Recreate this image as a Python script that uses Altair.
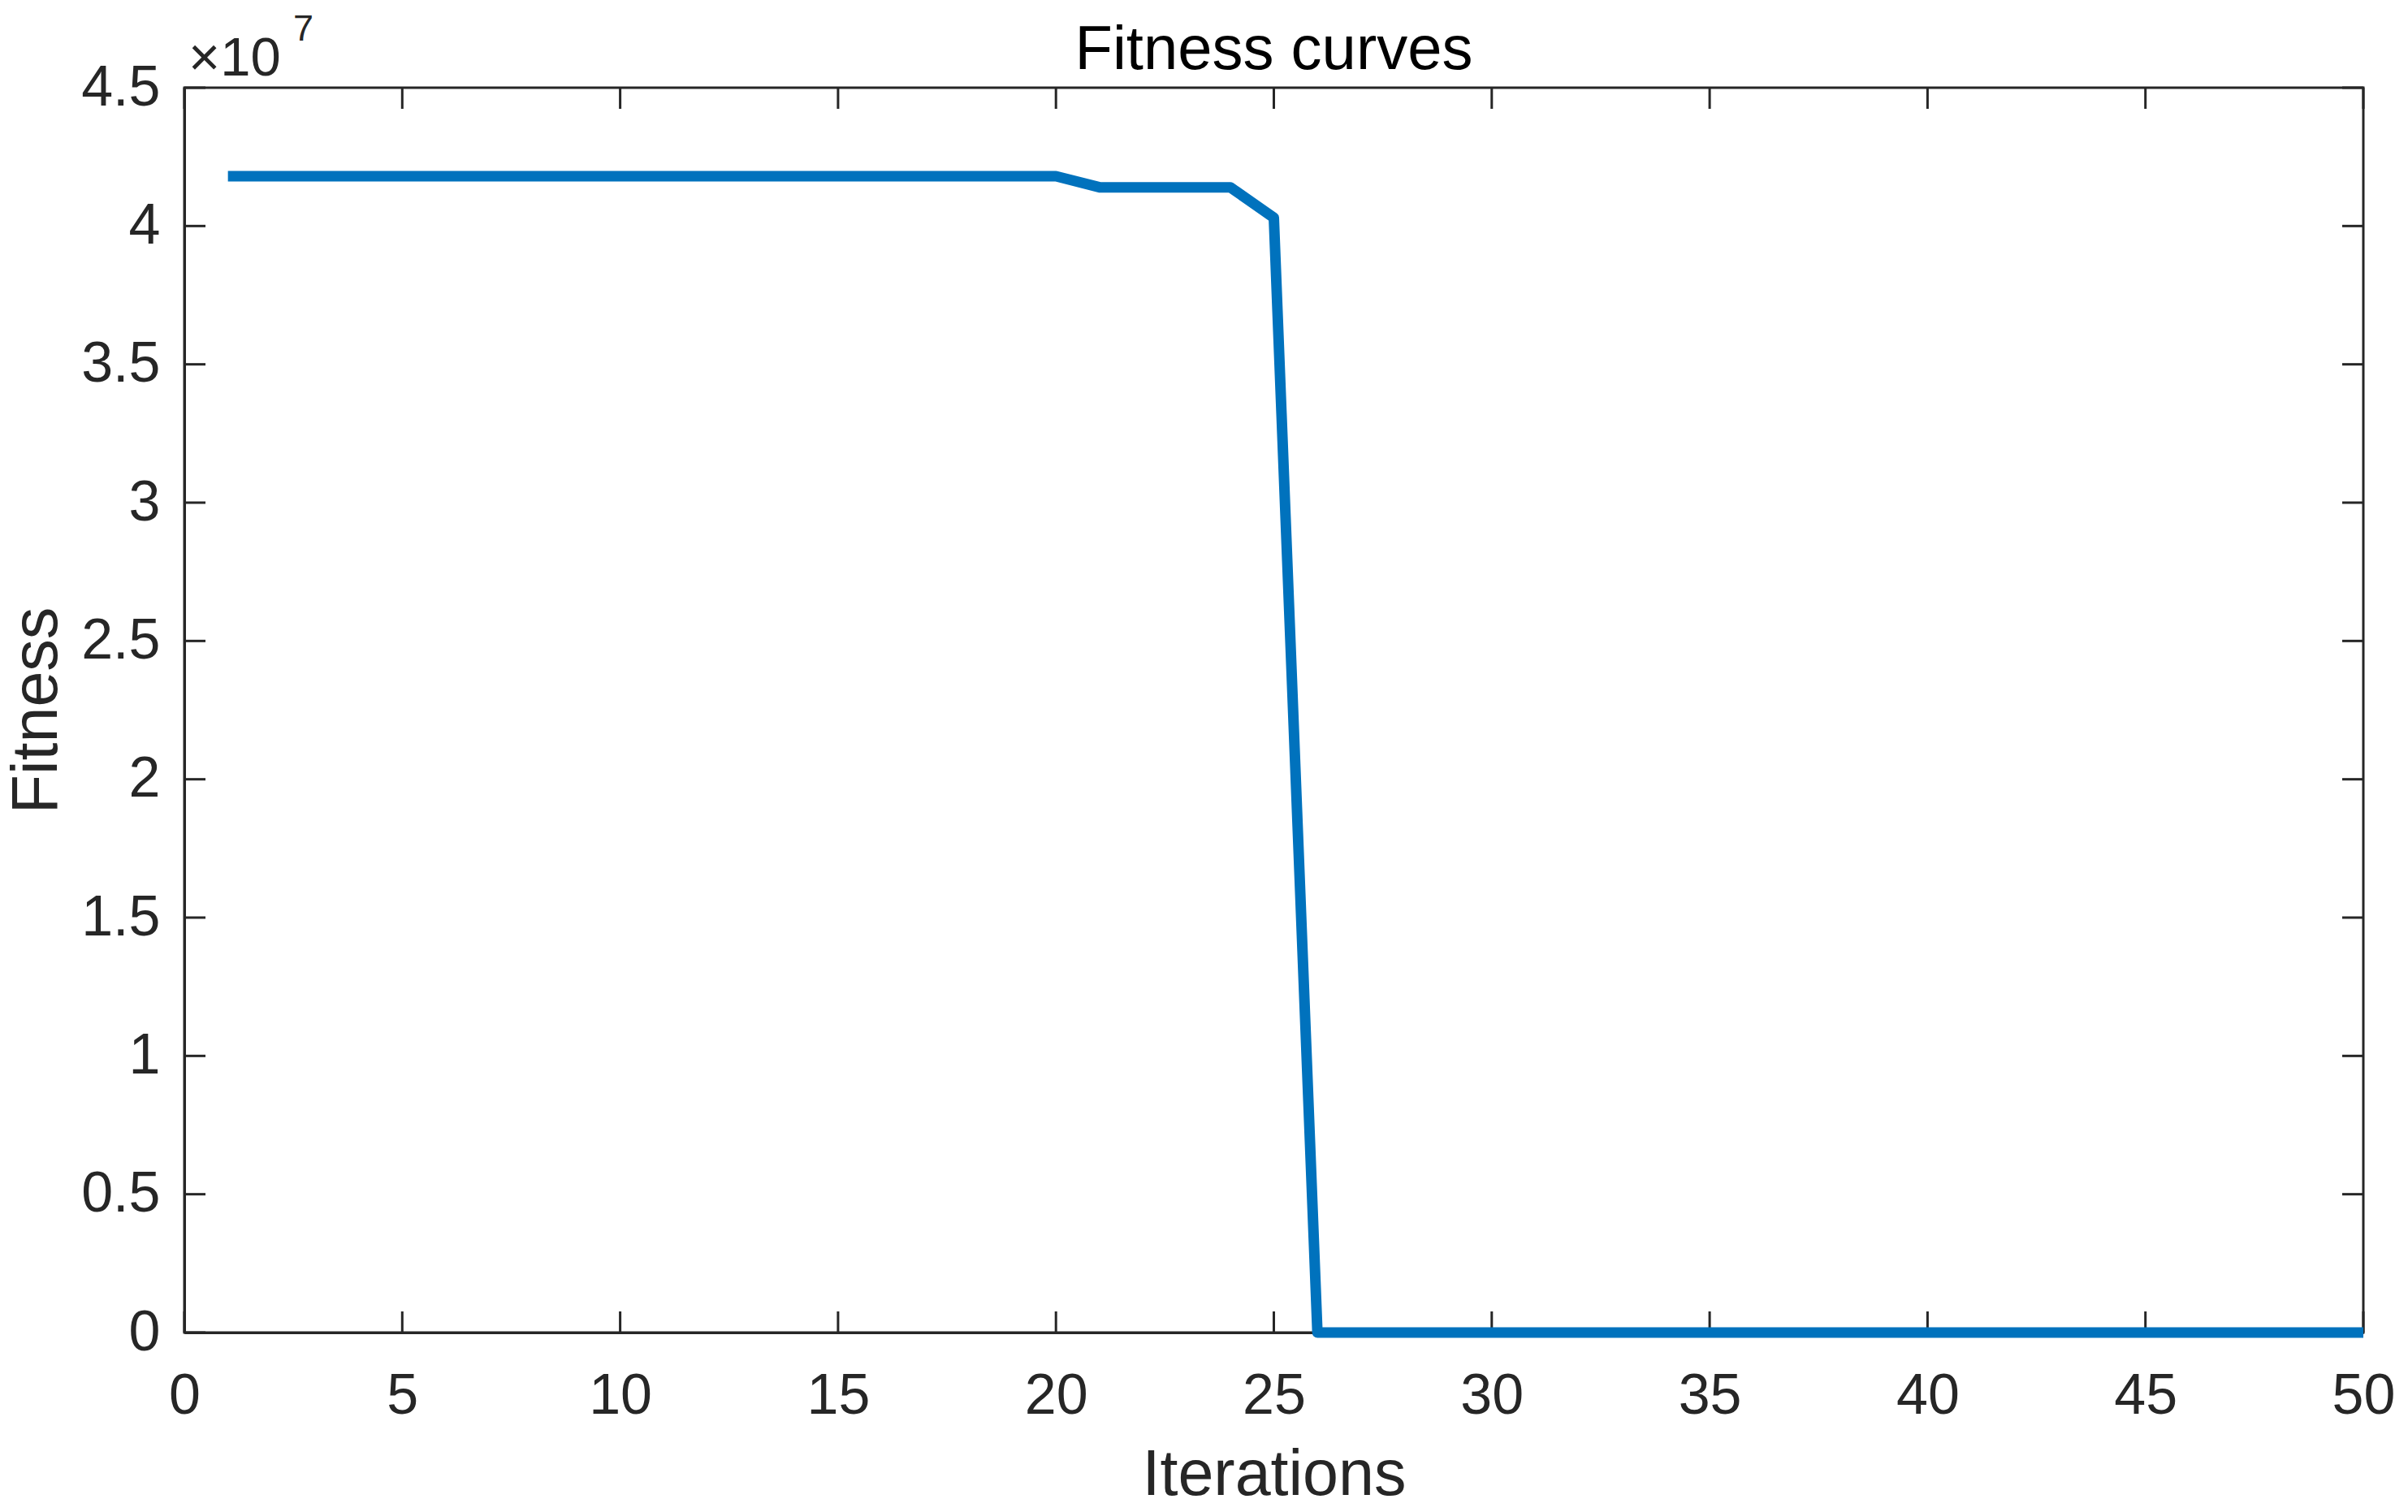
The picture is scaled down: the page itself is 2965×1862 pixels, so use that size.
import altair as alt
import pandas as pd

# ---- data ----
iterations = list(range(1, 51))
fitness = (
    [41800000] * 20          # iterations 1-20
    + [41400000] * 4         # iterations 21-24
    + [40300000]             # iteration 25
    + [0] * 25               # iterations 26-50
)
x_ticks = [0, 5, 10, 15, 20, 25, 30, 35, 40, 45, 50]
y_ticks = [0, 5000000, 10000000, 15000000, 20000000, 25000000,
           30000000, 35000000, 40000000, 45000000]
title_text = "Fitness curves"
exponent_base = "×10"
exponent_power = "7"

W, H = 2683, 1533
FONT = "Liberation Sans"
DARK = "#262626"
TICK_LEN = 26

df = pd.DataFrame({"Iterations": iterations, "Fitness": fitness})
dfx = pd.DataFrame({"Iterations": x_ticks})
dfy = pd.DataFrame({"Fitness": y_ticks})

xscale = alt.Scale(domain=[0, 50], nice=False, zero=False)
yscale = alt.Scale(domain=[0, 45000000], nice=False, zero=False)

x_axis = alt.Axis(values=x_ticks, title="Iterations", ticks=False, tickSize=0,
                  grid=False, labelFlush=False, labelOverlap=False,
                  labelFontSize=70, labelFont=FONT, labelColor=DARK,
                  labelPadding=99, labelBaseline="alphabetic",
                  domainColor=DARK, domainWidth=3,
                  titleFontSize=79, titleFont=FONT, titleColor=DARK,
                  titleFontWeight="normal", titleY=199, titleX=W / 2,
                  titleBaseline="alphabetic", titleAlign="center")
y_axis = alt.Axis(values=y_ticks, title="Fitness", ticks=False, tickSize=0,
                  grid=False, labelOverlap=False,
                  labelExpr="datum.value / 10000000 + ''",
                  labelFontSize=70, labelFont=FONT, labelColor=DARK,
                  labelPadding=30, labelAlign="right", labelBaseline="middle",
                  domainColor=DARK, domainWidth=3,
                  titleFontSize=79, titleFont=FONT, titleColor=DARK,
                  titleFontWeight="normal", titleX=-158, titleY=H / 2,
                  titleBaseline="alphabetic", titleAngle=270,
                  titleAlign="center")

tick_style = dict(color=DARK, strokeWidth=3)
xt_bottom = alt.Chart(dfx).mark_rule(**tick_style).encode(
    x=alt.X("Iterations:Q", scale=xscale, axis=x_axis),
    y=alt.value(H), y2=alt.value(H - TICK_LEN))
xt_top = alt.Chart(dfx).mark_rule(**tick_style).encode(
    x=alt.X("Iterations:Q", scale=xscale),
    y=alt.value(0), y2=alt.value(TICK_LEN))
yt_left = alt.Chart(dfy).mark_rule(**tick_style).encode(
    y=alt.Y("Fitness:Q", scale=yscale, axis=y_axis),
    x=alt.value(0), x2=alt.value(TICK_LEN))
yt_right = alt.Chart(dfy).mark_rule(**tick_style).encode(
    y=alt.Y("Fitness:Q", scale=yscale),
    x=alt.value(W), x2=alt.value(W - TICK_LEN))

line = alt.Chart(df).mark_line(
    color="#0072BD", strokeWidth=13, strokeJoin="round", strokeCap="butt", clip=False
).encode(
    x=alt.X("Iterations:Q", scale=xscale),
    y=alt.Y("Fitness:Q", scale=yscale),
)

exp_base = alt.Chart(pd.DataFrame({"t": [exponent_base]})).mark_text(
    font=FONT, fontSize=67, color=DARK, align="left", baseline="alphabetic"
).encode(x=alt.value(5), y=alt.value(-15), text="t:N")
exp_pow = alt.Chart(pd.DataFrame({"t": [exponent_power]})).mark_text(
    font=FONT, fontSize=45, color=DARK, align="left", baseline="alphabetic"
).encode(x=alt.value(134), y=alt.value(-58), text="t:N")
title = alt.Chart(pd.DataFrame({"t": [title_text]})).mark_text(
    font=FONT, fontSize=76, color="black", align="center", baseline="alphabetic"
).encode(x=alt.value(W / 2), y=alt.value(-23), text="t:N")

chart = alt.layer(
    xt_bottom, xt_top, yt_left, yt_right, exp_base, exp_pow, title, line
).properties(
    width=W, height=H,
    background="white",
    autosize=alt.AutoSizeParams(type="none"),
    padding={"left": 219, "top": 100, "right": 40, "bottom": 212},
).configure_view(
    stroke=DARK, strokeWidth=3
)

chart.save("out.html", embed_options={"renderer": "svg", "actions": False})
